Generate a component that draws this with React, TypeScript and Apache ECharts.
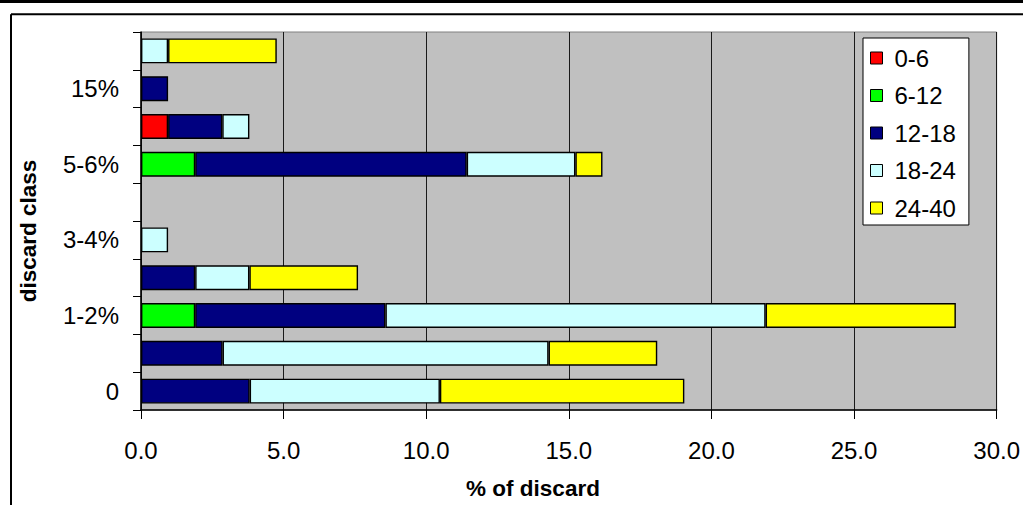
import React, { useEffect, useRef } from "react";
import * as echarts from "echarts";

// Discard classes, bottom to top (only every other class is labelled)
const categories = ["0", "", "1-2%", "", "3-4%", "", "5-6%", "", "15%", ""];

// Share of discard (%) per length group, one value per class
const g0to6 = [null, null, null, null, null, null, null, 0.95, null, null];
const g6to12 = [null, null, 1.9, null, null, null, 1.9, null, null, null];
const g12to18 = [3.81, 2.86, 6.67, 1.9, null, null, 9.52, 1.9, 0.95, null];
const g18to24 = [6.67, 11.43, 13.33, 1.9, 0.95, null, 3.81, 0.95, null, 0.95];
const g24to40 = [8.57, 3.81, 6.67, 3.81, null, null, 0.95, null, null, 3.81];

const groupNames = ["0-6", "6-12", "12-18", "18-24", "24-40"];
const groupValues = [g0to6, g6to12, g12to18, g18to24, g24to40];
const groupColors = ["#ff0000", "#00ff00", "#000080", "#ccffff", "#ffff00"];

const xTicks = { min: 0, max: 30, step: 5 };

const FONT = "'Liberation Sans', Arial, sans-serif";

export default function App() {
  const ref = useRef<HTMLDivElement>(null);

  useEffect(() => {
    if (!ref.current) return;
    const chart = echarts.init(ref.current, null, { renderer: "svg" });

    const series = groupNames.map((name, i) => ({
      name,
      type: "bar",
      stack: "discard",
      data: groupValues[i],
      barCategoryGap: "34%",
      itemStyle: { color: groupColors[i], borderColor: "#000", borderWidth: 1.4 },
    }));

    chart.setOption({
      animation: false,
      backgroundColor: "#fff",
      grid: {
        left: 141,
        top: 32,
        right: 24,
        bottom: 95,
        show: true,
        backgroundColor: "#c0c0c0",
        borderColor: "#808080",
        borderWidth: 1,
      },
      xAxis: {
        type: "value",
        min: xTicks.min,
        max: xTicks.max,
        interval: xTicks.step,
        axisLine: { show: true, lineStyle: { color: "#000", width: 1.5 } },
        axisTick: { show: true, length: 9, lineStyle: { color: "#000", width: 1 } },
        axisLabel: {
          margin: 28,
          color: "#000",
          fontSize: 24,
          fontFamily: FONT,
          formatter: (v: number) => v.toFixed(1),
        },
        splitLine: { show: true, lineStyle: { color: "#1a1a1a", width: 1 } },
      },
      yAxis: {
        type: "category",
        data: categories,
        axisLine: { show: true, lineStyle: { color: "#000", width: 1.5 } },
        axisTick: { show: true, interval: 0, length: 8, lineStyle: { color: "#000", width: 1 } },
        axisLabel: {
          interval: 0,
          margin: 22,
          color: "#000",
          fontSize: 24,
          fontFamily: FONT,
        },
        splitLine: { show: false },
      },
      legend: {
        orient: "vertical",
        left: 863,
        top: 38,
        padding: [8, 13, 5, 7],
        backgroundColor: "#fff",
        borderColor: "#000",
        borderWidth: 1,
        icon: "rect",
        itemWidth: 12,
        itemHeight: 12,
        itemGap: 13.5,
        itemStyle: { borderColor: "#000", borderWidth: 1 },
        textStyle: {
          color: "#000",
          fontSize: 24,
          fontFamily: FONT,
          lineHeight: 24,
          padding: [0, 0, 0, 7],
        },
        data: groupNames,
      },
      graphic: [
        { type: "rect", shape: { x: 0, y: 0, width: 1023, height: 3 }, style: { fill: "#000" } },
        {
          type: "line",
          shape: { x1: 11, y1: 14.3, x2: 1023, y2: 14.3 },
          style: { stroke: "#000", lineWidth: 2 },
        },
        {
          type: "line",
          shape: { x1: 11, y1: 14.3, x2: 11, y2: 505 },
          style: { stroke: "#000", lineWidth: 2 },
        },
        {
          type: "text",
          x: 28,
          y: 231,
          rotation: Math.PI / 2,
          style: {
            text: "discard class",
            fill: "#000",
            font: `bold 22.5px ${FONT}`,
            align: "center",
            verticalAlign: "middle",
          },
        },
        {
          type: "text",
          x: 533,
          y: 488,
          style: {
            text: "% of discard",
            fill: "#000",
            font: `bold 22.5px ${FONT}`,
            align: "center",
            verticalAlign: "middle",
          },
        },
      ],
      series,
    });

    return () => chart.dispose();
  }, []);

  return (
    <div
      ref={ref}
      style={{ position: "fixed", left: 0, top: 0, width: 1023, height: 505 }}
    />
  );
}
